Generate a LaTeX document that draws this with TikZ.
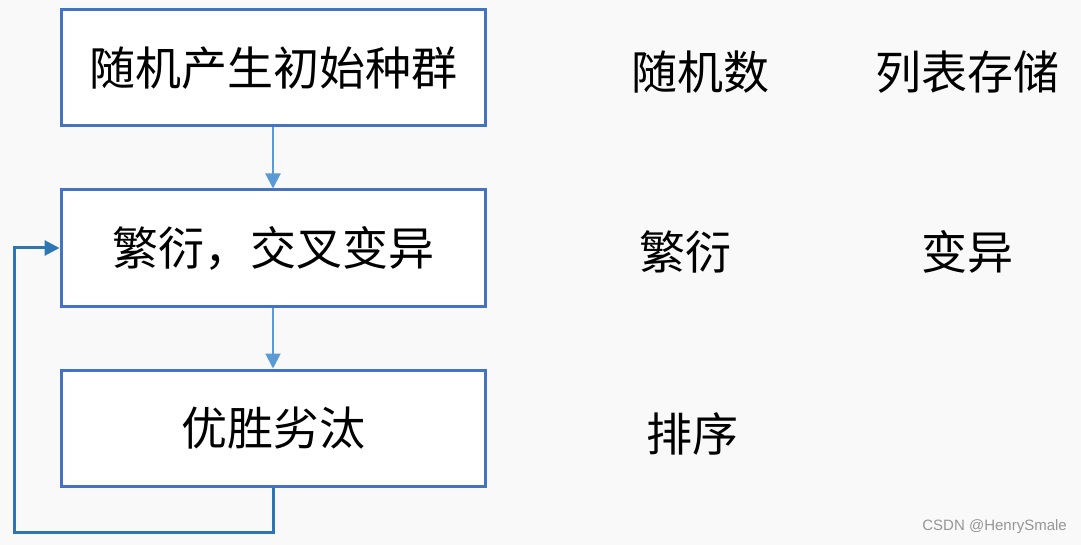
\documentclass[tikz,border=0pt]{standalone}
\usepackage{fontspec}
\setmainfont{Liberation Sans}
\newfontfamily\cjk{Noto Sans CJK SC}
\usetikzlibrary{arrows.meta}
\definecolor{boxblue}{RGB}{68,114,196}
\definecolor{arrblue}{RGB}{91,155,213}
\definecolor{loopblue}{RGB}{46,117,182}
\definecolor{bggray}{RGB}{249,249,249}
\definecolor{wmgray}{RGB}{150,150,150}
\tikzset{
  stepbox/.style={draw=boxblue, line width=3pt, fill=white, minimum width=424pt, minimum height=116pt, inner sep=0pt, font=\cjk\fontsize{46}{50}\selectfont},
  flowarrow/.style={draw=arrblue, line width=2pt, -{Triangle[length=15pt,width=15pt]}},
  looparrow/.style={draw=loopblue, line width=3pt, -{Triangle[length=15pt,width=15pt]}},
  sidelabel/.style={font=\cjk\fontsize{46}{50}\selectfont, inner sep=0pt}
}
\begin{document}
\begin{tikzpicture}[x=1pt,y=-1pt]
\fill[bggray] (0,0) rectangle (1081,545);
\useasboundingbox (0,0) rectangle (1081,545);
\node[stepbox] (b1) at (273,68) {随机产生初始种群};
\node[stepbox] (b2) at (273,248) {繁衍，交叉变异};
\node[stepbox] (b3) at (273,428) {优胜劣汰};
\draw[flowarrow] (b1.south) -- (b2.north);
\draw[flowarrow] (b2.south) -- (b3.north);
\coordinate (c1) at (273,532);
\coordinate (c2) at (14,532);
\coordinate (c3) at (14,248);
\draw[looparrow, line join=miter] (b3.south) -- (c1) -- (c2) -- (c3) -- (b2.west);
\node[sidelabel] (r1) at (700,72) {随机数};
\node[sidelabel] (r2) at (967,72) {列表存储};
\node[sidelabel] (r3) at (685,252) {繁衍};
\node[sidelabel] (r4) at (967,252) {变异};
\node[sidelabel] (r5) at (692,434) {排序};
\node[font=\fontsize{15}{17}\selectfont, text=wmgray, anchor=east, inner sep=0pt] (wm) at (1067,527) {CSDN @HenrySmale};
\end{tikzpicture}
\end{document}
